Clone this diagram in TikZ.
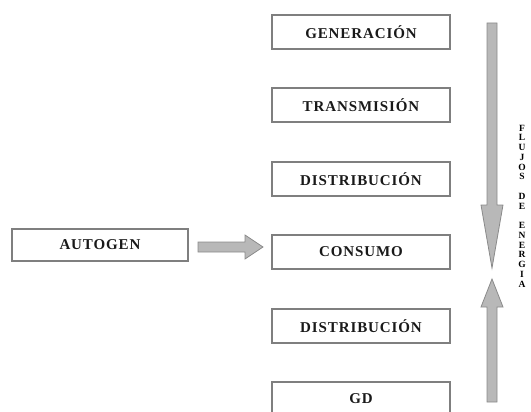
\documentclass[tikz,border=0pt]{standalone}
\usepackage{fontspec}
\setmainfont{Liberation Serif}
\usetikzlibrary{positioning}
\definecolor{borde}{HTML}{7F7F7F}
\definecolor{relleno}{HTML}{B8B8B8}
\definecolor{contorno}{HTML}{8A8A8A}
\tikzset{
  etapa/.style={draw=borde, line width=1.3pt, minimum width=178pt, minimum height=34pt,
    inner sep=0pt, text=black!90,
    font=\fontsize{15}{17}\selectfont\bfseries\addfontfeature{LetterSpace=6}},
  flecha/.style={fill=relleno, draw=contorno, line width=0.8pt, line join=miter}
}
\begin{document}
\begin{tikzpicture}[x=1pt,y=-1pt]
       \clip (0,0) rectangle (531,412);
       \path (361,32)  node[etapa] (gen)   {GENERACIÓN}
             (361,105) node[etapa] (trans) {TRANSMISIÓN}
             (361,179) node[etapa] (dist)  {DISTRIBUCIÓN}
             (361,252) node[etapa] (cons)  {CONSUMO}
             (361,326) node[etapa] (distb) {DISTRIBUCIÓN}
             (361,399) node[etapa] (gd)    {GD}
             (100,245) node[etapa, minimum width=176pt, minimum height=32pt] (auto) {AUTOGEN};
       % flecha de autogeneracion
       \draw[flecha] (198,242) -- (245,242) -- (245,235) -- (263,247)
             -- (245,259) -- (245,252) -- (198,252) -- cycle;
       % flujo descendente
       \draw[flecha] (487,23) -- (497,23) -- (497,205) -- (503,205) -- (492,268)
             -- (481,205) -- (487,205) -- cycle;
       % flujo ascendente
       \draw[flecha] (487,402) -- (497,402) -- (497,307) -- (503,307) -- (492,279)
             -- (481,307) -- (487,307) -- cycle;
       \path (522,206) node[align=center, inner sep=0pt,
             font=\fontsize{9.5}{9.75}\selectfont\bfseries] (flujos)
             {F\\L\\U\\J\\O\\S\\~\\D\\E\\~\\E\\N\\E\\R\\G\\I\\A};
     \end{tikzpicture}
\end{document}
